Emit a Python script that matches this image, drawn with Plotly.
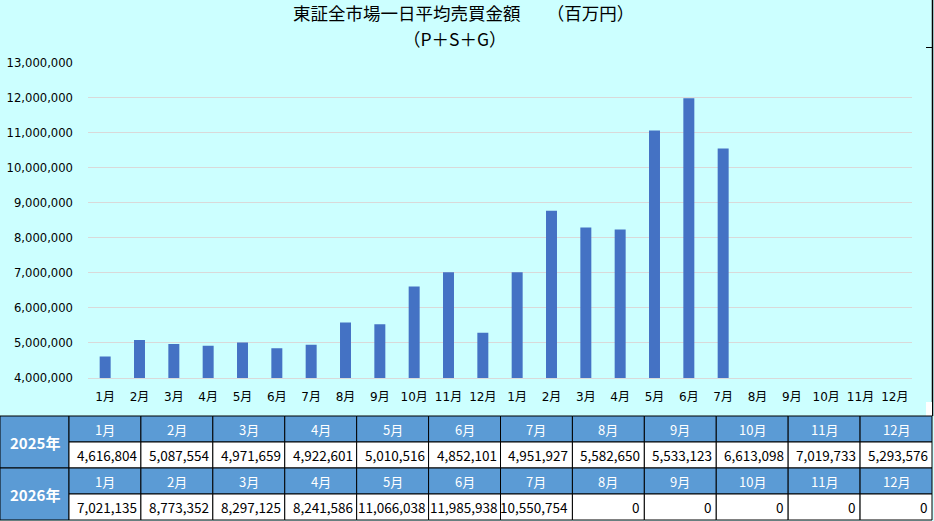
import plotly.graph_objects as go

months = ["1月", "2月", "3月", "4月", "5月", "6月", "7月", "8月", "9月", "10月", "11月", "12月"]
years = ["2025年", "2026年"]
values_2025 = [4616804, 5087554, 4971659, 4922601, 5010516, 4852101, 4951927,
               5582650, 5533123, 6613098, 7019733, 5293576]
values_2026 = [7021135, 8773352, 8297125, 8241586, 11066038, 11985938, 10550754,
               0, 0, 0, 0, 0]
title_line1 = "東証全市場一日平均売買金額　　（百万円）"
title_line2 = "（P＋S＋G）"

W, H = 934, 521
def px(x):
    return x / W
def py(y):
    return 1 - y / H

all_vals = values_2025 + values_2026
xs = list(range(len(all_vals)))
ticktext = months + months

BG = "#CCFFFF"
BAR = "#4472C4"
HDR = "#5B9BD5"
FONT = "Noto Sans CJK JP"
TICKFONT = "DejaVu Sans, Noto Sans CJK JP"

fig = go.Figure()
fig.add_trace(go.Bar(x=xs, y=all_vals, width=0.32, marker=dict(color=BAR, line=dict(width=0)),
                     hoverinfo="skip"))

x0p, x1p = 88, 912
y0p, y1p = 62.7, 378

fig.update_layout(
    width=W, height=H,
    margin=dict(l=0, r=0, t=0, b=0, pad=0, autoexpand=False),
    paper_bgcolor=BG, plot_bgcolor=BG,
    showlegend=False,
    xaxis=dict(domain=[px(x0p), px(x1p)], range=[-0.5, 23.5], tickmode="array",
               tickvals=xs, ticktext=ticktext, showgrid=False, zeroline=False,
               showline=True, linecolor="#D9D9D9", linewidth=1, ticks="",
               tickfont=dict(family=TICKFONT, size=12, color="#000000"),
               ticklabelstandoff=8, fixedrange=True, automargin=False),
    yaxis=dict(domain=[py(y1p), py(y0p)], range=[4000000, 13000000], dtick=1000000,
               tickformat=",d", showgrid=True, gridcolor="#D9D9D9", gridwidth=1,
               zeroline=False, showline=False, ticks="",
               tickfont=dict(family=TICKFONT, size=11.6, color="#000000"),
               ticklabelstandoff=14, fixedrange=True, automargin=False),
)

shapes = []
annotations = []

annotations.append(dict(x=px(463), y=py(12.5), xref="paper", yref="paper", text=title_line1,
                        showarrow=False, xanchor="center", yanchor="middle",
                        font=dict(family=FONT, size=17.5, color="#000000")))
annotations.append(dict(x=px(455), y=py(38), xref="paper", yref="paper", text=title_line2,
                        showarrow=False, xanchor="center", yanchor="middle",
                        font=dict(family=FONT, size=17.5, color="#000000")))

# right border line with tick
shapes.append(dict(type="line", xref="paper", yref="paper", x0=px(932.5), x1=px(932.5),
                   y0=py(0), y1=py(416), line=dict(color="#000000", width=1.5)))
shapes.append(dict(type="line", xref="paper", yref="paper", x0=px(926), x1=px(932.5),
                   y0=py(47.5), y1=py(47.5), line=dict(color="#000000", width=1)))
shapes.append(dict(type="rect", xref="paper", yref="paper", x0=px(926), x1=px(932),
                   y0=py(416), y1=py(402), fillcolor="#FFFFFF", line=dict(width=0)))

# table
tbl_top = 416
row_h = 26
label_w = 69
col_w = (932 - label_w) / 12

def rect(xa, ya, xb, yb, fill):
    shapes.append(dict(type="rect", xref="paper", yref="paper", x0=px(xa), x1=px(xb),
                       y0=py(yb), y1=py(ya), fillcolor=fill,
                       line=dict(color="#000000", width=1)))

for yi, (yr, vals) in enumerate(zip(years, [values_2025, values_2026])):
    top = tbl_top + yi * 2 * row_h
    rect(0, top, label_w, top + 2 * row_h, HDR)
    annotations.append(dict(x=px(label_w / 2), y=py(top + row_h), xref="paper", yref="paper",
                            text="<b>" + yr + "</b>", showarrow=False, xanchor="center",
                            yanchor="middle",
                            font=dict(family=FONT, size=15, color="#FFFFFF")))
    for ci in range(12):
        xa = label_w + ci * col_w
        xb = xa + col_w
        rect(xa, top, xb, top + row_h, HDR)
        rect(xa, top + row_h, xb, top + 2 * row_h, "#FFFFFF")
        annotations.append(dict(x=px((xa + xb) / 2), y=py(top + row_h / 2), xref="paper",
                                yref="paper", text=months[ci], showarrow=False,
                                xanchor="center", yanchor="middle",
                                font=dict(family=FONT, size=13, color="#FFFFFF")))
        annotations.append(dict(x=px(xb - 2), y=py(top + row_h * 1.5), xref="paper",
                                yref="paper", text=f"{vals[ci]:,}", showarrow=False,
                                xanchor="right", yanchor="middle",
                                font=dict(family=FONT, size=13.5, color="#000000")))

fig.update_layout(shapes=shapes, annotations=annotations)
fig.write_html("out.html")
